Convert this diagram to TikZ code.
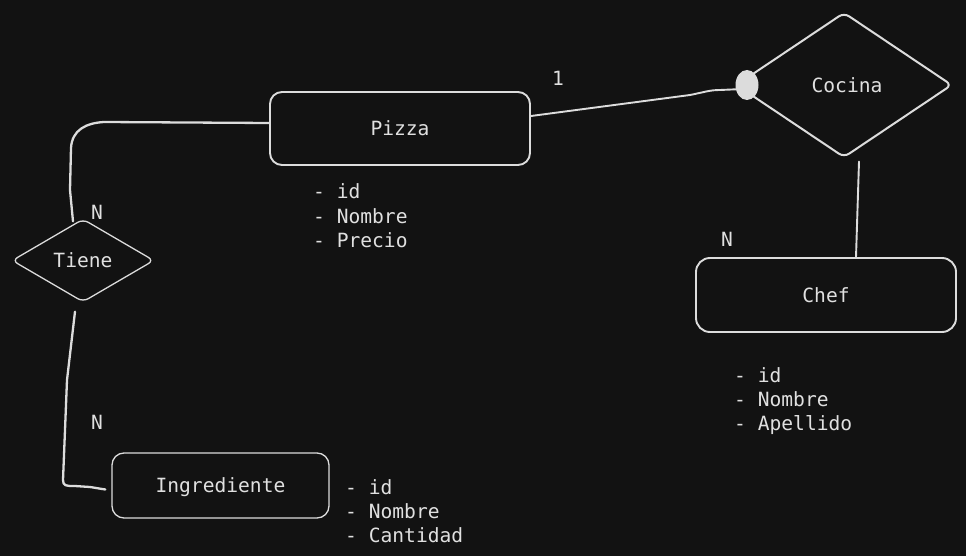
\documentclass[tikz,border=0pt]{standalone}
\usepackage{fontspec}
\setmonofont{DejaVu Sans Mono}
\usetikzlibrary{shapes.geometric}
\definecolor{bg}{HTML}{121212}
\definecolor{ink}{HTML}{DCDCDC}
\definecolor{txt}{HTML}{E0E0E0}
\begin{document}
\begin{tikzpicture}[x=1pt,y=-1pt,
  every node/.style={font=\fontsize{19.6}{24}\selectfont\ttfamily, text=txt},
  entity/.style={draw=ink, line width=1.9pt, rounded corners=12pt, inner sep=0pt, text height=14.2pt, text depth=0pt},
  rel/.style={diamond, draw=ink, line width=1.7pt, rounded corners=6pt, inner sep=0pt, text height=14.2pt, text depth=0pt},
  conn/.style={draw=ink, line width=2.3pt, line cap=round, line join=round},
  attr/.style={anchor=base west, inner sep=0pt},
  card/.style={anchor=base, inner sep=0pt}]
\fill[bg] (0,0) rectangle (966,556);
\useasboundingbox (0,0) rectangle (966,556);

% entities
\node[entity, minimum width=260pt, minimum height=73pt] (pizza) at (400,128.5) {Pizza};
\node[entity, minimum width=260pt, minimum height=74pt, rounded corners=14pt] (chef) at (826,295) {Chef};
\node[entity, minimum width=217pt, minimum height=65pt, line width=1.3pt] (ingr) at (220.5,485.5) {Ingrediente};

% relationships
\node[rel, minimum width=216pt, minimum height=145pt, line width=2pt] (cocina) at (844,85) {\hspace*{6pt}Cocina};
\node[rel, minimum width=142pt, minimum height=83pt, line width=1.3pt] (tiene) at (83,260.5) {Tiene};

% connectors
\draw[conn] ([yshift=5.5pt]pizza.west) -- (104,122) .. controls (86,123) and (72,130) .. (71,148) -- (70,190) -- ([xshift=-10pt,yshift=-3pt]tiene.north);
\draw[conn, line width=1.9pt] ([yshift=12.5pt]pizza.east) -- (690,95) .. controls (705,92) and (710,90) .. (720,90) -- ([xshift=8pt,yshift=-4pt]cocina.west);
\fill[ink] ([xshift=12pt,yshift=0pt]cocina.west) ellipse (11.5 and 15);
\draw[conn, line width=1.9pt] ([xshift=15pt,yshift=-3pt]cocina.south) -- ([xshift=30pt]chef.north);
\draw[conn] ([xshift=-8pt,yshift=-9pt]tiene.south) -- (67,380) -- (63,480) .. controls (63,486) and (66,486) .. (75,486) -- (90,487) -- ([xshift=-6pt,yshift=-4pt]ingr.west);

% cardinalities
\node[card] (c1) at (558,86) {1};
\node[card] (c2) at (97,219) {N};
\node[card] (c3) at (727,246) {N};
\node[card] (c4) at (97,429) {N};

% attributes
\node[attr] (p1) at (313,199) {- id};
\node[attr] (p2) at (313,223) {- Nombre};
\node[attr] (p3) at (313,247) {- Precio};
\node[attr] (h1) at (734,382) {- id};
\node[attr] (h2) at (734,406) {- Nombre};
\node[attr] (h3) at (734,430) {- Apellido};
\node[attr] (i1) at (345,494) {- id};
\node[attr] (i2) at (345,518) {- Nombre};
\node[attr] (i3) at (345,542) {- Cantidad};
\end{tikzpicture}
\end{document}
